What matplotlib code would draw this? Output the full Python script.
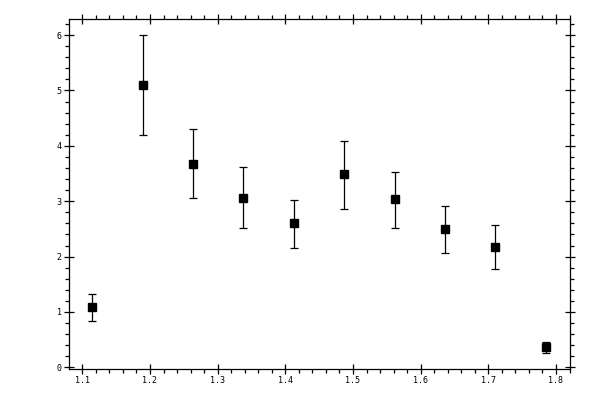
import matplotlib
matplotlib.use("Agg")
import matplotlib.pyplot as plt
from matplotlib.ticker import MultipleLocator

x = [1.115, 1.190, 1.264, 1.338, 1.413, 1.487, 1.562, 1.636, 1.710, 1.785]
y = [1.083, 5.092, 3.666, 3.052, 2.600, 3.485, 3.034, 2.492, 2.167, 0.361]
y_hi = [1.318, 5.995, 4.298, 3.611, 3.026, 4.092, 3.532, 2.918, 2.564, 0.451]
y_lo = [0.831, 4.189, 3.052, 2.510, 2.149, 2.853, 2.510, 2.059, 1.770, 0.258]

err_lo = [a - b for a, b in zip(y, y_lo)]
err_hi = [b - a for a, b in zip(y, y_hi)]

fig = plt.figure(figsize=(6, 4), dpi=100)
ax = fig.add_axes([0.115, 0.0775, 0.835, 0.875])

ax.errorbar(x, y, yerr=[err_lo, err_hi], fmt='s', color='black', ms=5.2,
            elinewidth=0.9, capsize=2.6, capthick=0.9, mec='black', mfc='black')

ax.set_xlim(1.0803, 1.8207)
ax.set_ylim(-0.03, 6.29)

ax.xaxis.set_major_locator(MultipleLocator(0.1))
ax.xaxis.set_minor_locator(MultipleLocator(0.02))
ax.yaxis.set_major_locator(MultipleLocator(1))
ax.yaxis.set_minor_locator(MultipleLocator(0.2))

for s in ax.spines.values():
    s.set_linewidth(0.9)

ax.tick_params(which='major', direction='inout', length=6.5, width=0.9,
               top=True, right=True, labelsize=6, pad=2)
ax.tick_params(which='minor', direction='out', length=3, width=0.9,
               top=True, right=True)

ax.set_xticklabels([f"{v:.1f}" for v in ax.get_xticks()])
for lbl in ax.get_xticklabels() + ax.get_yticklabels():
    lbl.set_family('DejaVu Sans Mono')
    lbl.set_fontsize(6)

ax.xaxis.set_major_formatter(matplotlib.ticker.FormatStrFormatter('%.1f'))
ax.yaxis.set_major_formatter(matplotlib.ticker.FormatStrFormatter('%d'))

fig.savefig("out.png", dpi=100)
